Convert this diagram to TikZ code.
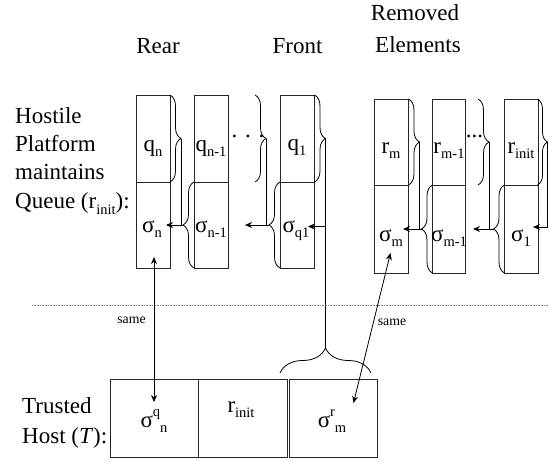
\documentclass[tikz,border=0pt]{standalone}
\usepackage{fontspec}
\setmainfont{Liberation Serif}
\usetikzlibrary{decorations.pathreplacing,arrows.meta}
\newcommand\mysb[1]{\raisebox{-0.26em}{\fontsize{14.5}{15}\selectfont #1}}
\newcommand\mysp[1]{\raisebox{0.45em}{\fontsize{14.5}{15}\selectfont #1}}
\begin{document}
\begin{tikzpicture}[x=1pt,y=-1pt,
  box/.style={draw=black!85,line width=0.8pt},
  lbl/.style={anchor=base,inner sep=0pt,font=\fontsize{23}{28}\selectfont},
  side/.style={anchor=base west,inner sep=0pt,font=\fontsize{23}{28}\selectfont},
  small/.style={anchor=base,inner sep=0pt,font=\fontsize{13.8}{16}\selectfont},
  brc/.style={decorate,decoration={brace,amplitude=11pt},line width=0.8pt},
  conn/.style={line width=0.8pt},
  arr/.style={line width=0.8pt,-{Stealth[length=7pt,width=6pt]}},
  arrb/.style={line width=0.8pt,{Stealth[length=7pt,width=6pt]}-{Stealth[length=7pt,width=6pt]}}]
\useasboundingbox (0,0) rectangle (549,461);

% header labels
\node[lbl] (rear) at (158,53) {Rear};
\node[lbl] (front) at (297.5,53) {Front};
\node[lbl] (rem1) at (415,20) {Removed};
\node[lbl] (rem2) at (418,52) {Elements};

% left labels
\node[side] (h1) at (15,123.3) {Hostile};
\node[side] (h2) at (15,151.7) {Platform};
\node[side] (h3) at (15,179.5) {maintains};
\node[side] (h4) at (15,208.3) {Queue (r\mysb{init}):};
\node[side] (t1) at (22,413) {Trusted};
\node[side] (t2) at (22,443.3) {Host (\textit{T}):};

% queue boxes (rear ... front)
\draw[box] (136.5,95) rectangle (170,182) (136.5,182) rectangle (170,268);
\draw[box] (194,95) rectangle (228,182) (194,182) rectangle (228,268);
\draw[box] (280,95) rectangle (314,182) (280,182) rectangle (314,268);
% removed elements boxes
\draw[box] (374.5,99) rectangle (408.5,185) (374.5,185) rectangle (408.5,273);
\draw[box] (432.5,99) rectangle (465,185) (432.5,185) rectangle (465,273);
\draw[box] (504.5,99) rectangle (538,185) (504.5,185) rectangle (538,273);

% box labels
\node[lbl] (qn) at (153,151) {q\mysb{n}};
\node[lbl] (sn) at (152,232) {σ\mysb{n}};
\node[lbl] (qn1) at (211,151) {q\mysb{n-1}};
\node[lbl] (sn1) at (211,232) {σ\mysb{n-1}};
\node[lbl] (q1) at (297,150) {q\mysb{1}};
\node[lbl] (sq1) at (296,232) {σ\mysb{q1}};
\node[lbl] (rm) at (391,153) {r\mysb{m}};
\node[lbl] (sm) at (391,241) {σ\mysb{m}};
\node[lbl] (rm1) at (449,153) {r\mysb{m-1}};
\node[lbl] (sm1) at (449,241) {σ\mysb{m-1}};
\node[lbl] (ri) at (521,153) {r\mysb{init}};
\node[lbl] (s1) at (521,241) {σ\mysb{1}};

% dots
\node[lbl] (d1) at (248,137) {.\,\,.\,\,.};
\node[lbl] (d2) at (474.5,137) {...};

% braces
\draw[brc] (170,95) -- (170,182);
\draw[brc] (194,268) -- (194,182);
\draw[brc] (255,95) -- (255,182);
\draw[brc] (280,268) -- (280,182);
\draw[brc] (314.5,95) -- (314.5,182);
\draw[brc] (408.5,99) -- (408.5,185);
\draw[brc] (432.5,273) -- (432.5,185);
\draw[brc] (478,99) -- (478,185);
\draw[brc] (504.5,273) -- (504.5,185);
\draw[decorate,decoration={brace,amplitude=10pt},line width=0.8pt] (537.5,99) -- (537.5,185);
\draw[decorate,decoration={brace,amplitude=25pt},line width=0.8pt] (280,373) -- (371,373);

% brace tips
\coordinate (u1) at (181,138.5);
\coordinate (l2) at (183,225);
\coordinate (u2) at (266,138.5);
\coordinate (l3) at (269,225);
\coordinate (u3) at (325.5,138.5);
\coordinate (ub) at (325.5,348);
\coordinate (u4) at (419.5,142);
\coordinate (l5) at (421.5,229);
\coordinate (u5) at (489,142);
\coordinate (l6) at (493.5,229);
\coordinate (u6) at (547.5,142);
% arrow targets
\coordinate (a1) at (166,225);
\coordinate (a2) at (245,225);
\coordinate (a3) at (308,226.5);
\coordinate (a4) at (403,229);
\coordinate (a5) at (473,229);
\coordinate (a6) at (533,227);

% connectors
\draw[arr] (u1) |- (a1);
\draw[conn] (l2) -- (u1 |- l2);
\draw[arr] (u2) |- (a2);
\draw[conn] (l3) -- (u2 |- l3);
\draw[conn] (u3) -- (ub);
\draw[arr] (u3 |- a3) -- (a3);
\draw[arr] (u4) |- (a4);
\draw[conn] (l5) -- (u4 |- l5);
\draw[arr] (u5) |- (a5);
\draw[conn] (l6) -- (u5 |- l6);
\draw[arr] (u6) |- (a6);

% separator
\draw[gray,densely dotted,line width=0.6pt] (32,305) -- (549,305);

% trusted host boxes
\draw[box] (110,379.5) rectangle (198.5,457);
\draw[box] (198.5,379.5) rectangle (287,457);
\draw[box] (289.5,379.5) rectangle (377,457);
\node[lbl] (sqn) at (154,427) {σ\mysp{q}\mysb{n}};
\node[lbl] (rinit) at (241,412) {r\mysb{init}};
\node[lbl] (srm) at (332,427) {σ\mysp{r}\mysb{m}};

% same arrows
\coordinate (sa1) at (154,257);
\coordinate (sb1) at (154,402);
\coordinate (sa2) at (390.5,253);
\coordinate (sb2) at (353.5,403);
\draw[arrb] (sa1) -- (sb1);
\draw[arrb] (sa2) -- (sb2);
\node[small] (same1) at (131.5,323) {same};
\node[small] (same2) at (392,325) {same};
\end{tikzpicture}
\end{document}
